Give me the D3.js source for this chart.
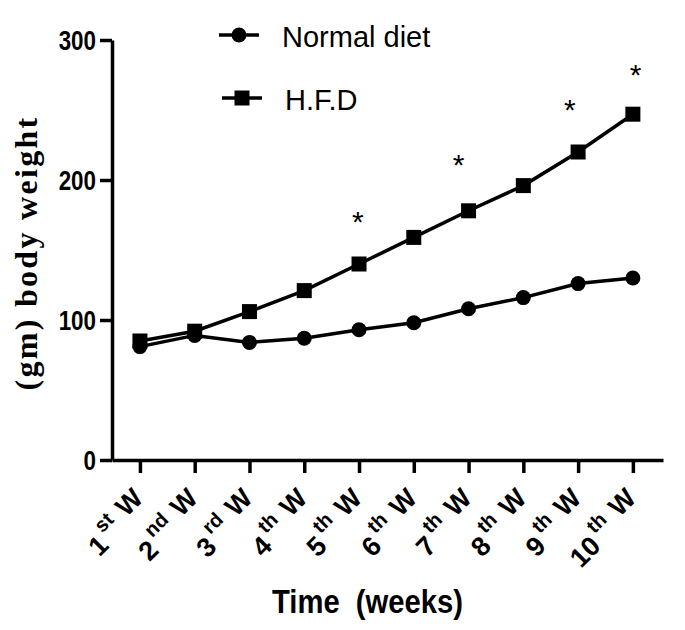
<!DOCTYPE html>
<html>
<head>
<meta charset="utf-8">
<script src="https://cdn.jsdelivr.net/npm/d3@7"></script>
<style>
body { margin: 0; background: #fff; }
</style>
</head>
<body>
<div class="container"></div>
<script>
// week labels
var weekNums = ['1', '2', '3', '4', '5', '6', '7', '8', '9', '10'];
var weekSuffix = ['st', 'nd', 'rd', 'th', 'th', 'th', 'th', 'th', 'th', 'th'];
var weekIndex = [1, 2, 3, 4, 5, 6, 7, 8, 9, 10];

// body weight (gm)
var normalDiet = [81, 89, 84, 87, 93, 98, 108, 116, 126, 130];
var hfd = [85, 92, 106, 121, 140, 159, 178, 196, 220, 247];

// significance marks (week position, value)
var starWeek = [4.98, 6.82, 8.85, 10.05];
var starValue = [175, 216, 255, 280];

var yTicks = [0, 100, 200, 300];

const WIDTH = 685;
const HEIGHT = 630;

var svg = d3.select('.container').append('svg')
	.attr('width', WIDTH)
	.attr('height', HEIGHT)
	.style('font-family', '"Liberation Sans", Arial, sans-serif');

var xScale = d3.scaleLinear()
	.domain([0.49, 10.55])
	.range([112, 663]);

var yScale = d3.scaleLinear()
	.domain([0, 300])
	.range([460, 40]);

// axes
var xAxis = d3.axisBottom(xScale)
	.tickValues(weekIndex)
	.tickFormat('')
	.tickSize(13)
	.tickSizeOuter(0);

var yAxis = d3.axisLeft(yScale)
	.tickValues(yTicks)
	.tickSize(12)
	.tickSizeOuter(0);

var gx = svg.append('g')
	.attr('transform', 'translate(0,' + yScale(0) + ')')
	.call(xAxis);

var gy = svg.append('g')
	.attr('transform', 'translate(' + xScale.range()[0] + ',0)')
	.call(yAxis);

[gx, gy].forEach(function(g){
	g.select('.domain').attr('stroke', '#000').attr('stroke-width', 3.5);
	g.selectAll('.tick line').attr('stroke', '#000').attr('stroke-width', 3.5);
});

gy.selectAll('.tick text')
	.attr('font-size', 28)
	.attr('font-weight', 'bold')
	.attr('fill', '#000')
	.attr('x', -16 / 0.8)
	.attr('dy', '0.33em')
	.attr('transform', 'scale(0.8,1)');

// rotated week labels
var xl = svg.append('g');
weekIndex.forEach(function(w, i){
	var t = xl.append('text')
		.attr('transform', 'translate(' + (xScale(w) + 11) + ',506) rotate(-45)')
		.attr('text-anchor', 'end')
		.attr('font-weight', 'bold')
		.attr('font-size', 27);
	t.append('tspan').text(weekNums[i]);
	t.append('tspan').attr('font-size', 20).attr('dx', 4).attr('dy', -15).text(weekSuffix[i]);
	t.append('tspan').attr('dx', 3).attr('dy', 6).text('\u00a0W');
});

// lines
var line = d3.line()
	.x(function(d, i){ return xScale(weekIndex[i]); })
	.y(function(d){ return yScale(d); });

svg.append('path')
	.attr('d', line(normalDiet))
	.attr('fill', 'none')
	.attr('stroke', '#000')
	.attr('stroke-width', 3.5);

svg.append('path')
	.attr('d', line(hfd))
	.attr('fill', 'none')
	.attr('stroke', '#000')
	.attr('stroke-width', 3.5);

svg.selectAll('.sq')
	.data(hfd)
	.enter().append('rect')
	.attr('x', function(d, i){ return xScale(weekIndex[i]) - 7.5; })
	.attr('y', function(d){ return yScale(d) - 7.5; })
	.attr('width', 15)
	.attr('height', 15)
	.attr('fill', '#000');

svg.selectAll('.dot')
	.data(normalDiet)
	.enter().append('circle')
	.attr('cx', function(d, i){ return xScale(weekIndex[i]); })
	.attr('cy', function(d){ return yScale(d); })
	.attr('r', 7.5)
	.attr('fill', '#000');

// asterisks
svg.selectAll('.star')
	.data(starValue)
	.enter().append('text')
	.attr('x', function(d, i){ return xScale(starWeek[i]); })
	.attr('y', function(d){ return yScale(d) + 17; })
	.attr('text-anchor', 'middle')
	.attr('font-size', 30)
	.text('*');

// legend
var legend = [
	{label: 'Normal diet', y: 35, x0: 219, x1: 259, shape: 'circle'},
	{label: 'H.F.D', y: 98, x0: 222, x1: 262, shape: 'square'}
];
legend.forEach(function(l){
	svg.append('line')
		.attr('x1', l.x0).attr('x2', l.x1)
		.attr('y1', l.y).attr('y2', l.y)
		.attr('stroke', '#000').attr('stroke-width', 3.5);
	var cx = (l.x0 + l.x1) / 2;
	if (l.shape == 'circle') {
		svg.append('circle').attr('cx', cx).attr('cy', l.y).attr('r', 7.5).attr('fill', '#000');
	} else {
		svg.append('rect').attr('x', cx - 7.5).attr('y', l.y - 7.5)
			.attr('width', 15).attr('height', 15).attr('fill', '#000');
	}
	svg.append('text')
		.attr('x', l.x0 + 63)
		.attr('y', l.y + 12)
		.attr('font-size', 29)
		.text(l.label);
});

// axis titles
svg.append('text')
	.attr('x', 272)
	.attr('y', 613)
	.attr('font-size', 34)
	.attr('font-weight', 'bold')
	.attr('textLength', 191)
	.attr('lengthAdjust', 'spacingAndGlyphs')
	.text('Time\u00a0\u00a0(weeks)');

svg.append('text')
	.attr('transform', 'translate(37,253) rotate(-90)')
	.attr('text-anchor', 'middle')
	.attr('font-family', '"Liberation Serif", "Times New Roman", serif')
	.attr('font-weight', 'bold')
	.attr('font-size', 32)
	.attr('letter-spacing', 2.3)
	.text('(gm) body weight');
</script>
</body>
</html>
